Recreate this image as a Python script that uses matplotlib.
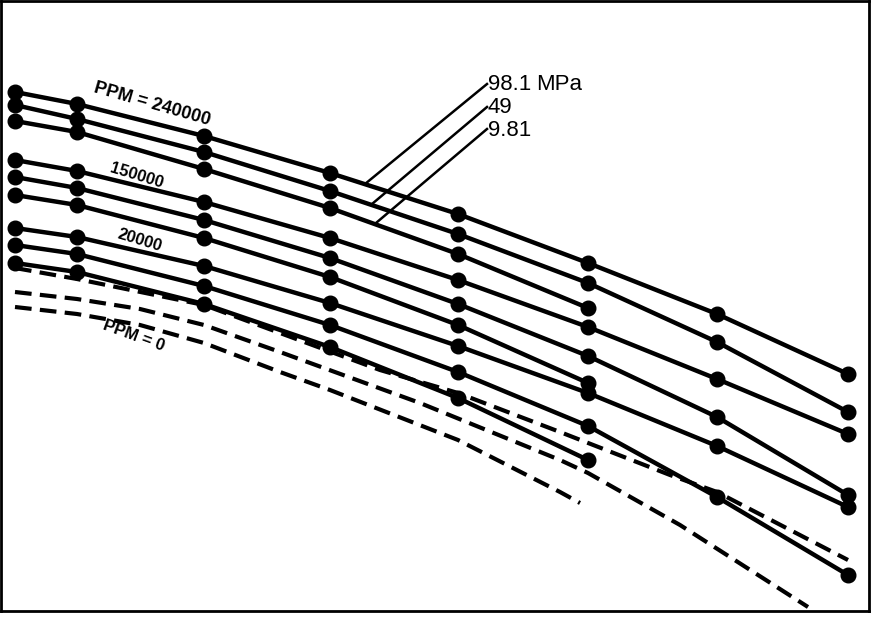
import matplotlib
matplotlib.use("Agg")
import matplotlib.pyplot as plt

# column positions (no axis scale in the original: values)
x_pts = [15, 77, 204, 330, 458, 588, 717, 848]

# PPM = 240000
s_240_981 = [92, 104, 136, 173, 214, 263, 314, 374]
s_240_49 = [105, 119, 152, 191, 234, 283, 342, 412]
s_240_9 = [121, 132, 169, 208, 254, 308]
# PPM = 150000
s_150_981 = [160, 171, 202, 238, 280, 327, 379, 434]
s_150_49 = [177, 188, 220, 258, 304, 356, 417, 495]
s_150_9 = [195, 205, 238, 277, 325, 383]
# PPM = 20000
s_20_981 = [228, 237, 266, 303, 346, 393, 446, 507]
s_20_49 = [245, 254, 286, 325, 372, 426, 497, 575]
s_20_9 = [263, 272, 304, 347, 398, 460]

# PPM = 0 (dashed, no markers)
x_dash_a = [15, 77, 204, 280, 380, 458, 560, 670, 717, 848]
d_a = [268, 279, 305, 333, 370, 393, 432, 475, 492, 560]
x_dash_b = [15, 77, 140, 204, 280, 420, 560, 588, 680, 808]
d_b = [292, 299, 309, 325, 352, 403, 460, 473, 525, 607]
x_dash_c = [15, 77, 140, 204, 280, 330, 458, 560, 580]
d_c = [307, 314, 325, 343, 372, 390, 440, 492, 503]

solid = [s_240_981, s_240_49, s_240_9, s_150_981, s_150_49, s_150_9,
         s_20_981, s_20_49, s_20_9]

fig = plt.figure(figsize=(8.73, 6.21), dpi=100)
ax = fig.add_axes([1 / 873, 1 - 611 / 621, 868 / 873, 610 / 621])
ax.set_xlim(1, 869)
ax.set_ylim(611, 1)

for ys in solid:
    ax.plot(x_pts[:len(ys)], ys, color='black', lw=3.2, marker='o', ms=10.5,
            solid_capstyle='round')

for xs, ys in [(x_dash_a, d_a), (x_dash_b, d_b), (x_dash_c, d_c)]:
    ax.plot(xs, ys, color='black', lw=3, dashes=(4, 2))

# leader lines for the pressure labels
ax.plot([487, 365], [84, 184], color='black', lw=1.8)
ax.plot([487, 372], [107, 204], color='black', lw=1.8)
ax.plot([487, 376], [129, 223], color='black', lw=1.8)

fam = ['Liberation Sans', 'DejaVu Sans']
ax.text(488, 90, '98.1', fontsize=16, family=fam, va='baseline', ha='left')
ax.text(582, 90, 'MPa', fontsize=16, family=fam, va='baseline', ha='right')
ax.text(488, 113, '49', fontsize=16, family=fam, va='baseline', ha='left')
ax.text(488, 136, '9.81', fontsize=16, family=fam, va='baseline', ha='left')

ax.text(152, 104, 'PPM = 240000', fontsize=13, family=fam, rotation=-16,
        ha='center', va='center', fontweight='bold')
ax.text(137, 176, '150000', fontsize=12, family=fam, rotation=-17,
        ha='center', va='center', fontweight='bold')
ax.text(140, 240, '20000', fontsize=12, family=fam, rotation=-17,
        ha='center', va='center', fontweight='bold')
ax.text(134, 336, 'PPM = 0', fontsize=12, family=fam, rotation=-20,
        ha='center', va='center', fontweight='bold')

ax.set_xticks([])
ax.set_yticks([])
for sp in ax.spines.values():
    sp.set_linewidth(2)

fig.savefig('out.png', dpi=100)
